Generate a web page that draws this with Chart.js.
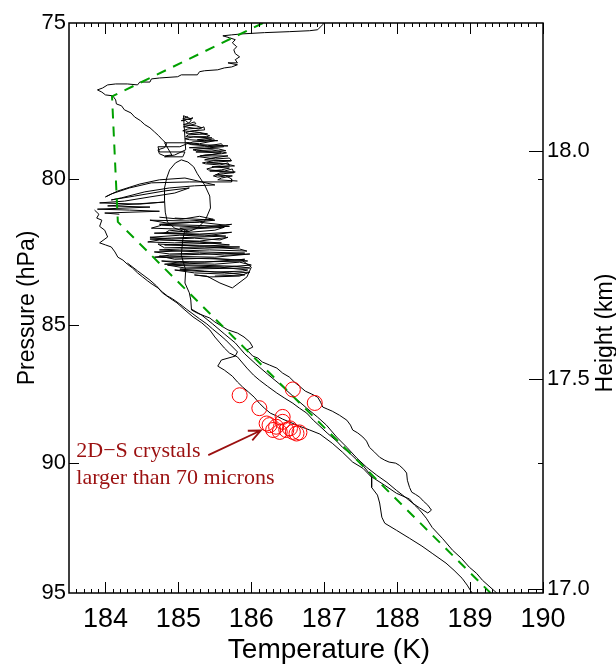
<!DOCTYPE html>
<html>
<head>
<meta charset="utf-8">
<script src="https://cdn.jsdelivr.net/npm/chart.js@4.4.1/dist/chart.umd.min.js"></script>
<style>
  html, body { margin: 0; padding: 0; background: #fff; }
  canvas { display: block; }
</style>
</head>
<body>
<canvas id="profileChart" width="616" height="664"></canvas>
<script>
// axis ticks
const tempTicks = [184, 185, 186, 187, 188, 189, 190];
const pressureTicks = [75, 80, 85, 90, 95];
const heightLabels = ['18.0', '17.5', '17.0'];
const heightTickPressures = [79.08, 86.93, 94.85];

// sonde trace, [temperature K, pressure hPa]
const traceUpper = [[187.00,74.93],[186.98,75.05],[186.91,75.21],[186.80,75.24],[186.52,75.27],[186.18,75.30],[185.87,75.34],[185.73,75.37],[185.61,75.40],[185.70,75.46],[185.78,75.52],[185.74,75.62],[185.80,75.74],[185.76,75.84],[185.78,75.96],[185.84,76.06],[185.78,76.15],[185.81,76.25],[185.68,76.25],[185.81,76.31],[185.73,76.38],[185.63,76.41],[185.54,76.47],[185.36,76.50],[185.29,76.53],[185.26,76.63],[185.04,76.63],[184.99,76.69],[184.74,76.73],[184.63,76.76],[184.61,76.86],[184.47,76.86],[184.44,76.95],[184.30,76.92],[184.14,76.92],[184.03,76.95],[183.96,77.05],[183.89,77.11],[183.95,77.18],[184.00,77.27],[184.10,77.30],[184.14,77.43],[184.15,77.56],[184.22,77.62],[184.26,77.75],[184.35,77.85],[184.40,77.98],[184.48,78.10],[184.54,78.23],[184.61,78.33],[184.67,78.46],[184.73,78.59],[184.78,78.72],[184.84,78.85],[184.81,78.98],[184.72,79.05],[184.74,79.18],[184.81,79.25],[184.91,79.22],
  [184.81,78.82],[185.15,78.82],[185.02,78.95],[184.72,78.95],[184.74,79.12],[185.09,79.12],[185.06,79.28],[184.81,79.28],[184.95,79.22],[185.10,79.05],
  [185.07,77.94],[185.17,78.04],[185.20,78.01],[185.04,78.10],[185.10,78.10],[185.15,78.20],[185.22,78.14],[185.24,78.20],[185.07,78.30],[185.09,78.30],[185.28,78.37],[185.35,78.30],[185.36,78.40],[185.18,78.43],[185.10,78.49],[185.13,78.53],[185.29,78.49],[185.43,78.59],[185.39,78.62],[185.21,78.62],[185.09,78.69],[185.15,78.72],[185.36,78.75],[185.48,78.69],[185.50,78.75],[185.29,78.85],[185.11,78.82],[185.18,78.88],[185.40,78.92],[185.59,78.85],[185.62,78.95],[185.43,78.98],[185.20,79.05],[185.25,79.08],[185.46,79.05],[185.66,79.15],[185.59,79.18],[185.36,79.22],[185.26,79.28],[185.29,79.28],[185.51,79.35],[185.70,79.32],[185.73,79.41],[185.48,79.41],[185.33,79.48],[185.37,79.51],[185.57,79.55],[185.68,79.48],[185.70,79.58],[185.50,79.61],[185.39,79.68],[185.41,79.71],[185.63,79.75],[185.74,79.68],[185.76,79.81],[185.57,79.81],[185.48,79.91],[185.54,79.95],[185.65,79.91],[185.73,80.01],[185.73,80.11],[185.15,80.11],[184.63,80.14],
  [184.33,80.31],[184.08,80.51],[184.00,80.61],[184.17,80.41],[184.47,80.18],[184.74,80.04],[185.09,79.98],[185.50,80.21],[185.22,80.24],[184.88,80.31],[184.54,80.44],[184.22,80.64],[184.08,80.71],[184.40,80.58],[184.81,80.41],[185.15,80.31],[184.95,80.48],[184.61,80.61],[184.26,80.75],[183.92,80.81],[184.47,80.85],[184.81,80.78],[184.03,80.91],[184.61,80.95],[183.89,81.02],[184.33,81.05],[184.74,81.09],[183.99,81.15],[184.19,81.19]];

const blobUpper = [[185.13,77.97],[185.06,78.04],[185.18,78.07],[185.15,78.17],[185.07,78.23],[185.25,78.27],[185.32,78.33],[185.13,78.37],[185.06,78.43],[185.22,78.46],[185.40,78.53],[185.14,78.56],[185.10,78.62],[185.46,78.66],[185.26,78.72],[185.54,78.75],[185.20,78.79],[185.13,78.85],[185.29,78.88],[185.68,78.92],[185.36,78.95],[185.15,78.98],[185.55,79.02],[185.65,79.08],[185.24,79.12],[185.59,79.15],[185.43,79.22],[185.30,79.25],[185.68,79.25],[185.46,79.32],[185.36,79.38],[185.72,79.41],[185.55,79.45],[185.39,79.48],[185.65,79.51],[185.77,79.58],[185.46,79.61],[185.70,79.65],[185.59,79.71],[185.43,79.75],[185.78,79.78],[185.62,79.84],[185.51,79.88],[185.74,79.91],[185.59,79.98],[185.54,80.04],[185.81,80.08]];

const traceOval = [[185.04,79.38],[184.96,79.48],[184.88,79.71],[184.84,79.98],[184.81,80.31],[184.81,80.71],[184.82,81.12],[184.85,81.46],[184.95,81.66],[185.11,81.80],[185.26,81.66],[185.37,81.39],[185.44,80.98],[185.43,80.58],[185.36,80.21],[185.26,79.84],[185.21,79.61],[185.13,79.45],[185.04,79.38]];

const traceMiddle = [[184.74,81.29],[185.04,81.36],[185.29,81.26],[185.48,81.36],[185.15,81.42],[184.61,81.39],[184.85,81.49],[185.29,81.46],[185.65,81.56],[185.73,81.53],[185.36,81.63],[184.77,81.56],[184.63,81.66],[185.09,81.70],[185.63,81.63],[185.50,81.73],[185.15,81.80],[184.88,81.73],[184.81,81.83],[185.29,81.86],[185.73,81.80],[185.36,81.93],[185.02,81.90],[184.61,81.97],[184.91,82.03],[185.22,82.00],[185.57,82.06],[185.68,81.97],[185.29,82.10],[184.74,82.06],[184.58,82.13],[184.95,82.16],[185.29,82.13],
  [185.70,82.23],[185.29,82.27],[184.72,82.20],[184.81,82.33],[185.36,82.30],[185.84,82.37],[185.94,82.44],[185.43,82.40],[184.67,82.47],[184.88,82.54],[185.29,82.51],[185.63,82.58],[185.98,82.54],[185.50,82.65],[184.74,82.61],[184.95,82.72],[185.43,82.68],[185.77,82.75],[185.91,82.72],[185.36,82.82],[184.77,82.78],[185.02,82.85],[185.50,82.89],[185.84,82.82],[186.00,82.92],[185.63,82.99],[184.85,82.92],[185.09,83.02],[185.57,82.99],[185.95,83.09],[185.88,83.13],[185.50,83.16],[184.95,83.09],[185.22,83.19],[185.63,83.23],[185.98,83.16],[185.84,83.30],[185.43,83.33],[185.22,83.26],
  [185.39,83.30],[185.57,83.54],[185.74,83.71],[185.94,83.33],[186.00,82.99],[185.87,82.75]];

const blobMiddle = [[184.95,81.32],[185.50,81.39],[185.22,81.46],[184.74,81.53],[185.70,81.60],[185.02,81.66],[185.15,81.77],[184.67,81.83],[185.46,81.90],[185.65,81.93],[184.85,82.00],[184.61,82.03],[185.09,82.10],[185.59,82.16],[184.81,82.23],[185.84,82.30],[185.02,82.37],[184.74,82.40],[185.29,82.47],[185.91,82.51],[184.88,82.58],[184.67,82.65],[185.68,82.72],[185.95,82.78],[185.15,82.82],[184.81,82.89],[185.77,82.96],[185.98,83.02],[185.02,83.06],[185.36,83.13],[185.70,83.19],[185.91,83.26],[185.50,83.30]];

const traceTongue = [[185.09,81.70],[185.06,82.06],[185.04,82.58],[185.10,83.09],[185.09,83.54],[185.15,83.88],[185.17,84.13],[185.18,84.48],[185.26,84.59],[185.36,84.69],[185.43,84.76],[185.50,84.90],[185.59,85.04],[185.68,85.18],[185.81,85.29],[185.90,85.43],[185.98,85.61],[186.02,85.79],[185.94,85.89],[186.02,86.11],[186.09,86.18],[186.15,86.32],[186.25,86.43],[186.35,86.54],[186.43,86.72],[186.52,86.86],[186.59,87.04],[186.66,87.19],[186.74,87.37],[186.83,87.48],[186.91,87.59],[186.95,87.77],[186.98,87.95],[187.04,88.02],[187.11,88.10],[187.21,88.25],[187.31,88.43],[187.36,88.61],[187.39,88.79],[187.46,88.90],[187.53,89.05],[187.58,89.20],[187.62,89.43],[187.69,89.61],[187.76,89.80],[187.83,89.91],[187.89,89.98],[187.98,90.02],[188.03,90.10],[188.09,90.25],[188.13,90.39],[188.14,90.66],[188.17,90.93],[188.20,91.11],[188.25,91.19],[188.31,91.30],[188.36,91.45],[188.42,91.60],[188.47,91.79],[188.42,91.90],[188.31,91.71],[188.21,91.52],[188.13,91.34],[187.99,91.04],[187.86,90.74],[187.72,90.47],[187.58,90.17],[187.45,89.84],[187.31,89.43],[187.17,89.05],[187.03,88.61],[186.91,88.32],[186.76,87.99],[186.57,87.55],[186.39,87.12],[186.22,86.75],[186.06,86.39],[185.91,86.03],[185.78,85.64],[185.63,85.32],[185.47,84.97],[185.32,84.66],[185.18,84.45]];

const traceLeft = [[183.85,81.05],[183.91,81.19],[183.88,81.32],[183.95,81.39],[183.92,81.60],[183.99,81.73],[184.03,81.96],[183.92,82.16],[184.00,82.23],[184.08,82.30],[184.13,82.47],[184.17,82.65],[184.24,82.75],[184.30,82.89],[184.37,83.02],[184.44,83.19],[184.51,83.33],[184.58,83.47],[184.64,83.58],[184.72,83.71],[184.78,83.85],[184.85,83.99],[184.92,84.09],[185.02,84.27],[185.11,84.45],[185.20,84.62],[185.29,84.79],[185.39,84.97],[185.47,85.15],[185.57,85.36],[185.65,85.54],[185.73,85.75],[185.81,85.96],[185.78,86.11],[185.59,86.25],[185.54,86.47],[185.63,86.61],[185.74,86.83],[185.81,87.04],[185.88,87.22],[185.96,87.40],[186.04,87.59],[186.11,87.81],[186.18,87.99],[186.26,88.17],[186.35,88.28],[186.43,88.39],[186.50,88.47],[186.66,88.65],[186.80,88.79],[186.94,88.94],[187.11,89.28],[187.25,89.61],[187.39,89.98],[187.53,90.21],[187.65,90.55],[187.65,90.93],[187.73,91.22],[187.76,91.52],[187.79,92.06],[187.83,92.29],[187.99,92.56],[188.17,92.87],[188.34,93.17],[188.48,93.45],[188.67,93.83],[188.78,94.11],[188.89,94.42],[188.96,94.69],[189.03,95.01]];

const traceCentre = [[184.30,82.85],[184.44,83.12],[184.61,83.44],[184.70,83.64],[184.78,83.88],[184.88,84.06],[184.98,84.23],[185.09,84.48],[185.20,84.72],[185.32,84.93],[185.43,85.18],[185.50,85.43],[185.57,85.64],[185.63,85.82],[185.70,86.00],[185.81,86.14],[185.94,86.54],[186.03,86.79],[186.11,86.97],[186.22,87.19],[186.35,87.44],[186.46,87.63],[186.57,87.81],[186.66,87.99],[186.76,88.17],[186.85,88.43],[186.94,88.65],[187.04,88.90],[187.17,89.20],[187.25,89.43],[187.35,89.65],[187.45,89.91],[187.53,90.10],[187.66,90.55],[187.83,90.85],[187.99,91.15],[188.17,91.37],[188.24,91.60],[188.31,91.79],[188.40,92.10],[188.48,92.45],[188.62,92.87],[188.76,93.33],[188.88,93.64],[188.99,93.99],[189.09,94.23],[189.17,94.50],[189.26,94.73],[189.37,95.01]];

// green dashed reference profile
const modelT = [186.16, 184.09, 184.17, 189.28];
const modelP = [75.0, 77.32, 81.45, 95.0];

// 2D-S crystal sightings
const crystalT = [185.84, 186.11, 186.57, 186.87, 186.43, 186.25, 186.34, 186.43, 186.48, 186.57, 186.39, 186.30, 186.53, 186.21, 186.62, 186.66];
const crystalP = [87.52, 87.99, 87.31, 87.80, 88.31, 88.61, 88.67, 88.49, 88.79, 88.86, 88.86, 88.79, 88.73, 88.55, 88.92, 88.88];

// annotation
const noteLines = ['2D\u2212S crystals', 'larger than 70 microns'];
const noteAt = [183.60, 89.80];
const arrowFrom = [185.41, 89.72];
const arrowTo = [186.13, 88.81];

const sans = "'Liberation Sans', Arial, Helvetica, sans-serif";
const serif = "'Liberation Serif', 'Times New Roman', serif";

const toXY = pts => pts.map(p => ({ x: p[0], y: p[1] }));
const traceSet = pts => ({
  data: toXY(pts), showLine: true, borderColor: '#000', borderWidth: 1,
  pointRadius: 0, fill: false, tension: 0
});

const framePlugin = {
  id: 'framePlugin',
  afterDraw(chart) {
    const { ctx, chartArea: a, scales: { x, y, y2 } } = chart;
    ctx.save();
    ctx.strokeStyle = '#000';
    ctx.lineWidth = 1;
    ctx.beginPath();
    // minor temperature ticks, top and bottom
    for (let k = 1836; k < 1900; k++) {
      if (k % 10 === 0) continue;
      const px = Math.round(x.getPixelForValue(k / 10)) + 0.5;
      ctx.moveTo(px, a.bottom); ctx.lineTo(px, a.bottom - 4);
      ctx.moveTo(px, a.top); ctx.lineTo(px, a.top + 4);
    }
    tempTicks.forEach(v => {
      const px = Math.round(x.getPixelForValue(v)) + 0.5;
      ctx.moveTo(px, a.bottom); ctx.lineTo(px, a.bottom - 11);
      ctx.moveTo(px, a.top); ctx.lineTo(px, a.top + 11);
    });
    [80, 85, 90].forEach(v => {
      const py = Math.round(y.getPixelForValue(v)) + 0.5;
      ctx.moveTo(a.left, py); ctx.lineTo(a.left + 10, py);
    });
    [80, 90].forEach(v => {
      const py = Math.round(y.getPixelForValue(v)) + 0.5;
      ctx.moveTo(a.right, py); ctx.lineTo(a.right - 5, py);
    });
    heightTickPressures.forEach(v => {
      const py = Math.round(y2.getPixelForValue(v)) + 0.5;
      ctx.moveTo(a.right, py); ctx.lineTo(a.right - 14, py);
    });
    ctx.stroke();
    ctx.lineWidth = 1.5;
    ctx.strokeRect(a.left, a.top, a.right - a.left, a.bottom - a.top);

    ctx.fillStyle = '#000';
    ctx.textAlign = 'center';
    ctx.textBaseline = 'middle';
    // bottom axis title
    ctx.font = '28px ' + sans;
    ctx.fillText('Temperature (K)', (a.left + a.right) / 2 + 23, a.bottom + 57);
    // right axis title, reading bottom to top
    ctx.font = '23px ' + sans;
    ctx.translate(a.right + 63, (a.top + a.bottom) / 2 + 25);
    ctx.rotate(-Math.PI / 2);
    ctx.fillText('Height (km)', 0, 0);
    ctx.restore();

    // annotation with arrow
    ctx.save();
    const dark = '#9b1010';
    ctx.fillStyle = dark;
    ctx.strokeStyle = dark;
    ctx.font = '22px ' + serif;
    ctx.textAlign = 'left';
    ctx.textBaseline = 'alphabetic';
    const tx = x.getPixelForValue(noteAt[0]);
    const ty = y.getPixelForValue(noteAt[1]);
    noteLines.forEach((t, i) => ctx.fillText(t, tx, ty + i * 27));
    const x0 = x.getPixelForValue(arrowFrom[0]), y0 = y.getPixelForValue(arrowFrom[1]);
    const x1 = x.getPixelForValue(arrowTo[0]), y1 = y.getPixelForValue(arrowTo[1]);
    const ang = Math.atan2(y1 - y0, x1 - x0);
    ctx.lineWidth = 1.8;
    ctx.beginPath();
    ctx.moveTo(x0, y0); ctx.lineTo(x1, y1);
    ctx.moveTo(x1 - 13 * Math.cos(ang - 0.42), y1 - 13 * Math.sin(ang - 0.42));
    ctx.lineTo(x1, y1);
    ctx.lineTo(x1 - 13 * Math.cos(ang + 0.42), y1 - 13 * Math.sin(ang + 0.42));
    ctx.stroke();
    ctx.restore();
  }
};

const ctx = document.getElementById('profileChart').getContext('2d');
new Chart(ctx, {
  type: 'scatter',
  data: {
    datasets: [
      {
        data: crystalT.map((t, i) => ({ x: t, y: crystalP[i] })),
        showLine: false, pointStyle: 'circle', pointRadius: 7.5,
        pointBorderColor: '#ff0000', pointBackgroundColor: 'rgba(0,0,0,0)', pointBorderWidth: 1
      },
      {
        data: modelT.map((t, i) => ({ x: t, y: modelP[i] })),
        showLine: true, borderColor: '#00a000', borderWidth: 2, borderDash: [10, 8],
        pointRadius: 0, fill: false
      },
      traceSet(traceUpper),
      traceSet(blobUpper),
      traceSet(traceOval),
      traceSet(traceMiddle),
      traceSet(blobMiddle),
      traceSet(traceTongue),
      traceSet(traceLeft),
      traceSet(traceCentre)
    ]
  },
  options: {
    responsive: false,
    animation: false,
    layout: { padding: { top: 23, left: 0, right: 0, bottom: 0 } },
    plugins: { legend: { display: false }, tooltip: { enabled: false } },
    scales: {
      x: {
        type: 'linear', min: 183.5, max: 190,
        grid: { display: false, drawTicks: false }, border: { display: false },
        afterBuildTicks: s => { s.ticks = tempTicks.map(v => ({ value: v })); },
        afterFit: s => { s.height = 71; },
        ticks: { color: '#000', font: { family: sans, size: 27, lineHeight: 1.2 }, padding: 10,
                 maxRotation: 0, autoSkip: false, callback: v => String(v) },
        title: { display: false }
      },
      y: {
        type: 'logarithmic', position: 'left', reverse: true, min: 75, max: 95,
        grid: { display: false, drawTicks: false }, border: { display: false },
        afterBuildTicks: s => { s.ticks = pressureTicks.map(v => ({ value: v })); },
        afterFit: s => { s.width = 69; },
        ticks: { color: '#000', font: { family: sans, size: 22 }, padding: 3, callback: v => String(v) },
        title: { display: true, text: 'Pressure (hPa)', color: '#000',
                 font: { family: sans, size: 23, lineHeight: 1 }, padding: { top: 16, bottom: 0 } }
      },
      y2: {
        type: 'logarithmic', position: 'right', reverse: true, min: 75, max: 95,
        grid: { display: false, drawTicks: false }, border: { display: false },
        afterBuildTicks: s => { s.ticks = heightTickPressures.map(v => ({ value: v })); },
        afterFit: s => { s.width = 73; },
        ticks: { color: '#000', font: { family: sans, size: 22 }, padding: 4,
                 callback: (v, i) => heightLabels[i] }
      }
    }
  },
  plugins: [framePlugin]
});
</script>
</body>
</html>
